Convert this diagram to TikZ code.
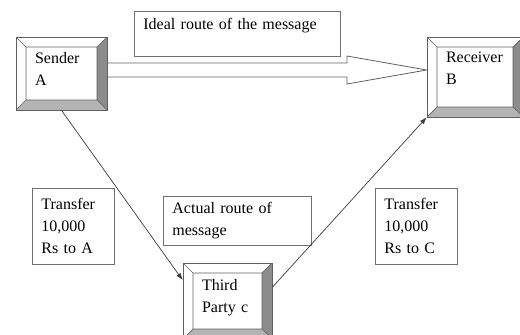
\documentclass[tikz,border=0pt]{standalone}
\usepackage{fontspec}
\setmainfont{Liberation Serif}
\usetikzlibrary{arrows.meta,calc}
\definecolor{routeFrameGray}{RGB}{96,96,96}
\definecolor{routeDarkGray}{RGB}{140,140,140}
\definecolor{routeMidGray}{RGB}{180,180,180}
\definecolor{routeLineGray}{RGB}{60,60,60}
\definecolor{routeNoteGray}{RGB}{110,110,110}

\begin{document}
\begin{tikzpicture}[
  x=1pt, y=-1pt,
  font=\fontsize{16}{22}\selectfont,
  party/.style={
    draw=routeFrameGray,
    line width=0.7pt,
    align=left,
    inner xsep=19pt,
    text depth=31pt,
    path picture={
      \path (path picture bounding box.south west) coordinate (bsw)
        (path picture bounding box.north east) coordinate (bne);
      \path (bsw) ++(10pt,10pt) coordinate (isw);
      \path (bne) ++(-10pt,-10pt) coordinate (ine);
      \fill[routeDarkGray] (bne) -- (ine) -- (ine |- isw) -- (bne |- bsw) -- cycle;
      \fill[routeMidGray] (bne |- bsw) -- (ine |- isw) -- (isw) -- (bsw) -- cycle;
      \draw[routeFrameGray,line width=0.7pt] (isw) rectangle (ine)
        (bsw) -- (isw) (bne) -- (ine)
        (bsw |- bne) -- (isw |- ine) (bne |- bsw) -- (ine |- isw);
    }
  },
  note/.style={
    draw=routeNoteGray,
    line width=0.8pt,
    align=left,
    anchor=north west,
    inner xsep=9pt,
    inner ysep=6pt
  },
  msg/.style={-{Latex[length=7pt,width=5pt]},routeLineGray,line width=0.7pt},
  hollow/.style={draw=routeFrameGray,line width=0.8pt}
]
  \useasboundingbox (0,0) rectangle (520,335);

  % the three parties
  \node[party,text width=53pt,minimum height=73pt] (sender) at (61.5,73.5) {Sender\\A};
  \node[party,text width=58pt,minimum height=80pt,text depth=39pt] (receiver) at (475,77) {Receiver\\B};
  \node[party,text width=51pt,minimum height=76pt,text depth=33pt] (third) at (227.5,301) {Third\\Party c};

  % labels
  \node[note,text width=188pt,inner ysep=7pt,text depth=20pt] (ideal) at (134,11) {Ideal route of the message};
  \node[note,text width=64pt,minimum height=76pt] (payA) at (32,188) {Transfer\\10,000\\Rs to A};
  \node[note,text width=130pt,minimum height=47pt] (actual) at (163,196) {Actual route of\\message};
  \node[note,text width=64pt,minimum height=76pt] (payC) at (375,188) {Transfer\\10,000\\Rs to C};

  % ideal route
  \draw[hollow] (sender.east |- 0,63) -- (347,63) -- (347,56) -- (receiver.west |- 0,70)
    -- (347,84) -- (347,77) -- (sender.east |- 0,77);

  % actual route
  \draw[msg] (sender.south) -- (third.155);
  \draw[msg] (third.17) -- (receiver.south west);
\end{tikzpicture}
\end{document}
